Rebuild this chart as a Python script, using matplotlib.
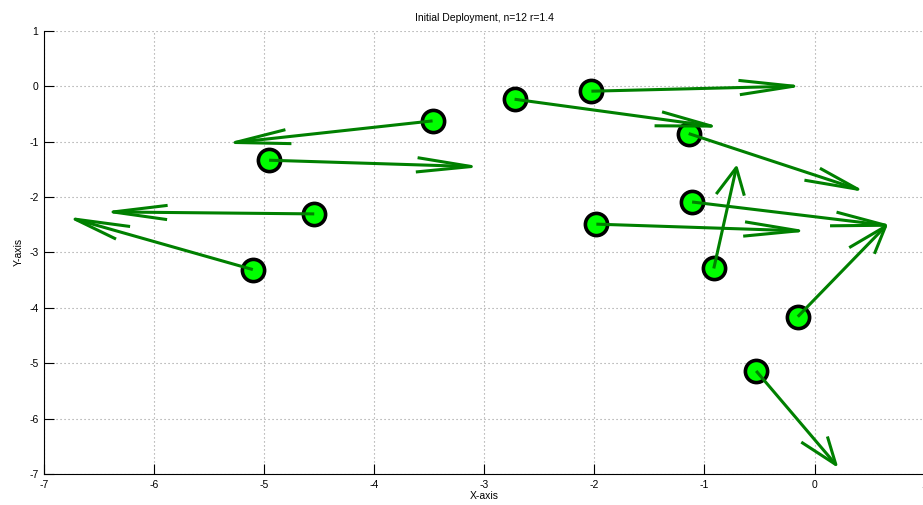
import numpy as np
import matplotlib.pyplot as plt

plt.rcParams['font.family'] = ['Liberation Sans', 'DejaVu Sans']
plt.rcParams['axes.unicode_minus'] = False

# node start positions
node_x = [-3.47, -4.955, -4.545, -5.103, -2.725, -2.027, -1.143, -1.112, -1.982, -0.915, -0.152, -0.53]
node_y = [-0.626, -1.336, -2.305, -3.31, -0.235, -0.09, -0.855, -2.09, -2.49, -3.29, -4.16, -5.14]
# arrow tips
tip_x = [-5.264, -3.118, -6.373, -6.718, -0.936, -0.188, 0.394, 0.645, -0.143, -0.71, 0.645, 0.194]
tip_y = [-1.016, -1.45, -2.27, -2.40, -0.72, 0.0, -1.86, -2.51, -2.61, -1.47, -2.53, -6.83]

x = np.array(node_x)
y = np.array(node_y)
u = np.array(tip_x) - x
v = np.array(tip_y) - y

fig = plt.figure(figsize=(9.23, 5.05), dpi=100)
ax = fig.add_axes([0.0477, 0.0614, 0.954, 0.8776])

ax.plot(x, y, 'o', ms=16, mfc=(0, 1, 0), mec='black', mew=2.6, zorder=3)

# quiver-like open arrows (shaft + two head strokes)
alpha, beta = 0.27, 0.26
green = (0, 0.5, 0)
for i in range(len(x)):
    ax.plot([x[i], x[i] + u[i]], [y[i], y[i] + v[i]], color=green, lw=2.2, zorder=4,
            solid_capstyle='butt')
    hx = [x[i] + u[i] - alpha * (u[i] + beta * v[i]), x[i] + u[i],
          x[i] + u[i] - alpha * (u[i] - beta * v[i])]
    hy = [y[i] + v[i] - alpha * (v[i] - beta * u[i]), y[i] + v[i],
          y[i] + v[i] - alpha * (v[i] + beta * u[i])]
    ax.plot(hx, hy, color=green, lw=2.2, zorder=4, solid_capstyle='butt')

ax.set_xlim(-7, 1)
ax.set_ylim(-7, 1)
ax.set_xticks(range(-7, 2))
ax.set_yticks(range(-7, 2))
ax.grid(True, linestyle=(0, (1, 2.6)), color='0.6', linewidth=0.8)
ax.spines['top'].set_visible(False)
ax.spines['right'].set_visible(False)
ax.tick_params(direction='in', length=7, width=0.8, labelsize=7.5, pad=4)
ax.set_xlabel('X-axis', fontsize=7.5, labelpad=1)
ax.set_ylabel('Y-axis', fontsize=7.5, labelpad=4)
ax.set_title('Initial Deployment, n=12 r=1.4', fontsize=7.5, pad=7)

plt.savefig('out.png', dpi=100)
